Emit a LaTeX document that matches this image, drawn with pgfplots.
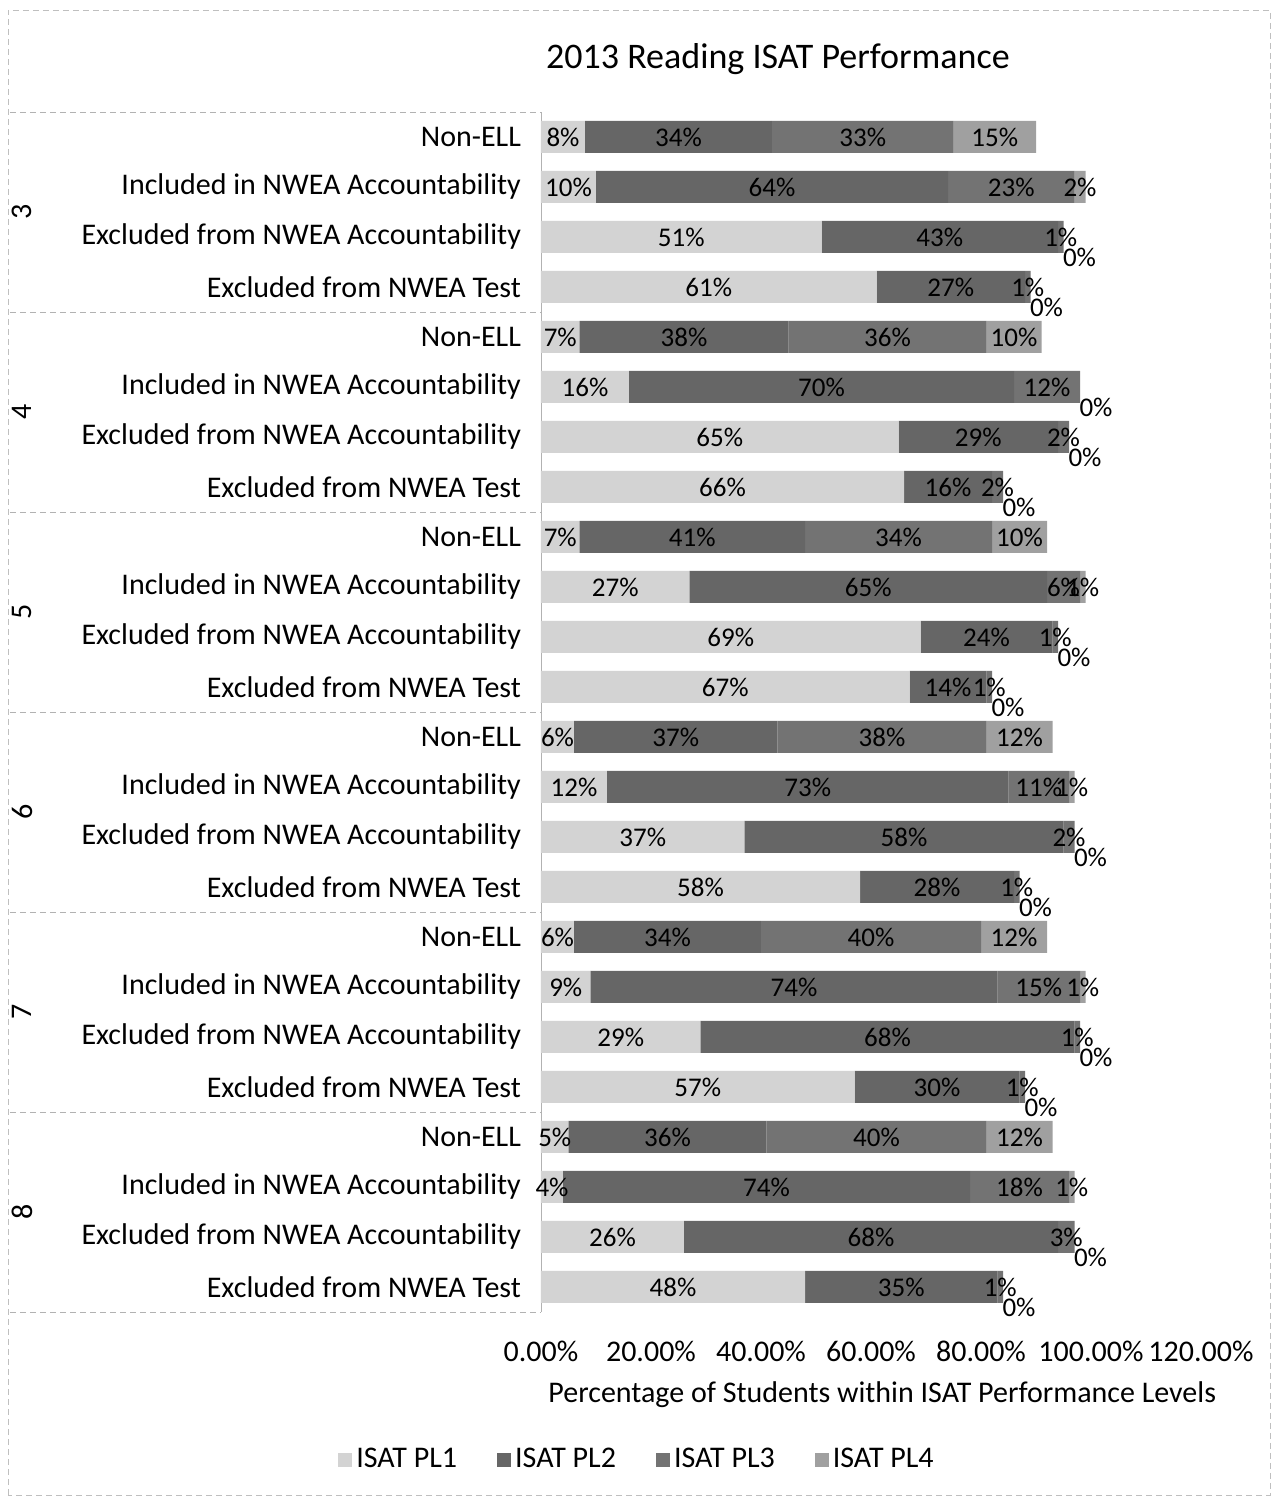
\documentclass[border=0pt]{standalone}
\usepackage{pgfplots}
\pgfplotsset{compat=1.18}
\usepackage{pgfplotstable}
\usepackage{fontspec}
\setmainfont{Carlito}
\definecolor{plA}{HTML}{D3D3D3}
\definecolor{plB}{HTML}{666666}
\definecolor{plC}{HTML}{737373}
\definecolor{plD}{HTML}{A0A0A0}
\newcommand{\fs}{\fontsize{15pt}{18pt}\selectfont}
\newcommand{\fsd}{\fontsize{13.5pt}{16pt}\selectfont}
% pos: 23 = grade 3 Non-ELL (top) ... 0 = grade 8 Excluded from NWEA Test (bottom)
\pgfplotstableread{
pos pla plb plc pld
23 8 34 33 15
22 10 64 23 2
21 51 43 1 0
20 61 27 1 0
19 7 38 36 10
18 16 70 12 0
17 65 29 2 0
16 66 16 2 0
15 7 41 34 10
14 27 65 6 1
13 69 24 1 0
12 67 14 1 0
11 6 37 38 12
10 12 73 11 1
9 37 58 2 0
8 58 28 1 0
7 6 34 40 12
6 9 74 15 1
5 29 68 1 0
4 57 30 1 0
3 5 36 40 12
2 4 74 18 1
1 26 68 3 0
0 48 35 1 0
}\datatable
\pgfplotsset{
  geom/.style={at={(0,0)}, anchor=south west, scale only axis, width=330pt, height=600pt,
     xmin=0, xmax=120, ymin=-0.5, ymax=23.5, clip=false,
     /pgf/number format/assume math mode=true},
  lbl/.style={forget plot, sharp plot, draw=none, mark=none,
   point meta=explicit,
   nodes near coords={\pgfmathprintnumber[fixed,precision=0]{\pgfplotspointmeta}\%},
   every node near coord/.append style={font=\fsd, anchor=center, text=black, inner sep=0pt}}}
\begin{document}
\begin{tikzpicture}
\useasboundingbox (-270.5pt,-92.5pt) rectangle (368pt,656pt);
\draw[gray!50, densely dashed] (-266.5pt,-91.5pt) rectangle (364.5pt,651pt);
\begin{axis}[
  geom,
  xbar stacked, bar width=16pt,
  axis line style={draw=none},
  major tick length=0pt,
  xtick={0,20,...,120},
  xticklabel={\pgfmathprintnumber[fixed,fixed zerofill,precision=2]{\tick}\%},
  xticklabel style={font=\fs, yshift=-11pt},
  ytick={0,...,23},
  yticklabels={Excluded from NWEA Test, Excluded from NWEA Accountability, Included in NWEA Accountability, Non-ELL,
               Excluded from NWEA Test, Excluded from NWEA Accountability, Included in NWEA Accountability, Non-ELL,
               Excluded from NWEA Test, Excluded from NWEA Accountability, Included in NWEA Accountability, Non-ELL,
               Excluded from NWEA Test, Excluded from NWEA Accountability, Included in NWEA Accountability, Non-ELL,
               Excluded from NWEA Test, Excluded from NWEA Accountability, Included in NWEA Accountability, Non-ELL,
               Excluded from NWEA Test, Excluded from NWEA Accountability, Included in NWEA Accountability, Non-ELL},
  yticklabel style={font=\fs, xshift=-6.5pt},
  title={2013 Reading ISAT Performance},
  title style={font=\fontsize{18pt}{21pt}\selectfont, at={(axis description cs:0.359,1.034)}, anchor=center},
  xlabel={Percentage of Students within ISAT Performance Levels},
  xlabel style={font=\fs, at={(axis description cs:0.517,-0.069)}, anchor=center},
  legend columns=4,
  legend style={draw=none, font=\fs, at={(axis description cs:0.147,-0.123)}, anchor=center,
                /tikz/every even column/.append style={column sep=18pt}},
  legend image code/.code={\draw[#1, draw=none] (0pt,-3.5pt) rectangle (7pt,3.5pt);},
]
\addplot[fill=plA, draw=none] table[x=pla, y=pos] {\datatable};
\addplot[fill=plB, draw=none] table[x=plb, y=pos] {\datatable};
\addplot[fill=plC, draw=none] table[x=plc, y=pos] {\datatable};
\addplot[fill=plD, draw=none] table[x=pld, y=pos] {\datatable};
\legend{ISAT PL1, ISAT PL2, ISAT PL3, ISAT PL4}
\draw[gray!60] (axis cs:0,-0.5) -- (axis cs:0,23.5);
\pgfplotsinvokeforeach{-0.5,3.5,7.5,11.5,15.5,19.5,23.5}{
  \draw[gray!60, densely dashed] ([xshift=-265.5pt]axis cs:0,#1) -- (axis cs:0,#1);
}
\node[rotate=90, font=\fs] at ([xshift=-259.5pt]axis cs:0,21.5) {3};
\node[rotate=90, font=\fs] at ([xshift=-259.5pt]axis cs:0,17.5) {4};
\node[rotate=90, font=\fs] at ([xshift=-259.5pt]axis cs:0,13.5) {5};
\node[rotate=90, font=\fs] at ([xshift=-259.5pt]axis cs:0,9.5) {6};
\node[rotate=90, font=\fs] at ([xshift=-259.5pt]axis cs:0,5.5) {7};
\node[rotate=90, font=\fs] at ([xshift=-259.5pt]axis cs:0,1.5) {8};
\end{axis}
% data labels, centred in each segment (same geometry, no bars)
\begin{axis}[geom, hide axis]
\addplot[lbl] table[x expr=\thisrow{pla}/2, y=pos, meta=pla] {\datatable};
\addplot[lbl] table[x expr=\thisrow{pla}+\thisrow{plb}/2, y=pos, meta=plb] {\datatable};
\addplot[lbl] table[x expr=\thisrow{pla}+\thisrow{plb}+\thisrow{plc}/2, y=pos, meta=plc] {\datatable};
\addplot[lbl, restrict expr to domain={\thisrow{pld}}{0.5:200}]
  table[x expr=\thisrow{pla}+\thisrow{plb}+\thisrow{plc}+\thisrow{pld}/2, y=pos, meta=pld] {\datatable};
\addplot[lbl, restrict expr to domain={\thisrow{pld}}{-1:0.5},
  every node near coord/.append style={xshift=8pt, yshift=-10pt}]
  table[x expr=\thisrow{pla}+\thisrow{plb}+\thisrow{plc}+\thisrow{pld}, y=pos, meta=pld] {\datatable};
\end{axis}
\end{tikzpicture}
\end{document}
